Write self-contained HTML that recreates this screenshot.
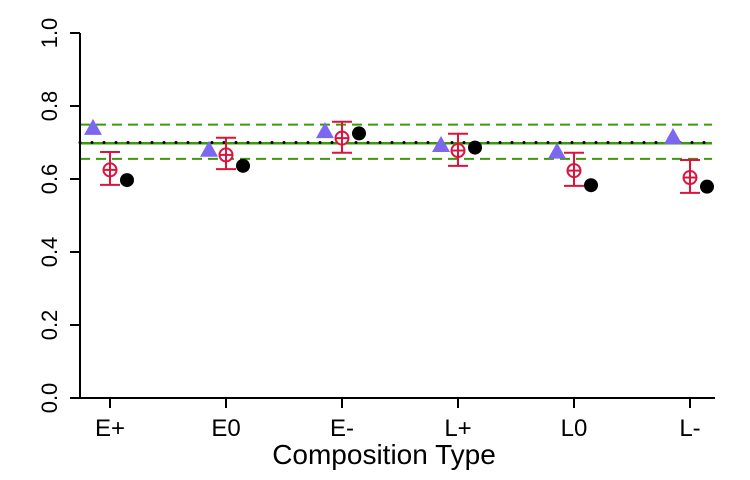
<!DOCTYPE html>
<html><head><meta charset="utf-8"><style>
html,body{margin:0;padding:0;background:#fff;}
svg{display:block;font-family:"Liberation Sans",Arial,sans-serif;}
</style></head><body>
<svg id="chart" width="750" height="480"></svg>
<script>
const categories=["E+","E0","E-","L+","L0","L-"];
const triangleValues=[0.740,0.680,0.731,0.693,0.675,0.715];
const meanValues=[0.625,0.666,0.712,0.678,0.623,0.604];
const errUpper=[0.674,0.713,0.757,0.724,0.672,0.652];
const errLower=[0.584,0.627,0.672,0.636,0.581,0.562];
const dotValues=[0.597,0.636,0.725,0.686,0.583,0.579];
const refLines=[0.700,0.698,0.749,0.655];
const yTicks=[0,0.2,0.4,0.6,0.8,1.0];
const yTickLabels=["0.0","0.2","0.4","0.6","0.8","1.0"];

const NS="http://www.w3.org/2000/svg";
const svg=document.getElementById('chart');
const y=v=>398-v*365;
const x=i=>110+i*116;
function mk(tag,attrs,parent){const e=document.createElementNS(NS,tag);for(const k in attrs)e.setAttribute(k,attrs[k]);(parent||svg).appendChild(e);return e;}

const lineX1=80,lineX2=712;
let l;
l=mk('line',{x1:lineX1,x2:lineX2,y1:y(refLines[1]),y2:y(refLines[1]),stroke:'#3a9a0a','stroke-width':2.5});


l=mk('line',{x1:lineX1,x2:lineX2,y1:y(refLines[0]),y2:y(refLines[0]),stroke:'#000','stroke-width':3,'stroke-dasharray':'0 12','stroke-linecap':'round'});


l=mk('line',{x1:lineX1,x2:lineX2,y1:y(refLines[2]),y2:y(refLines[2]),stroke:'#3a9a0a','stroke-width':2,'stroke-dasharray':'10 6'});


l=mk('line',{x1:lineX1,x2:lineX2,y1:y(refLines[3]),y2:y(refLines[3]),stroke:'#3a9a0a','stroke-width':2,'stroke-dasharray':'10 6'});



l=mk('line',{x1:80,x2:80,y1:y(1),y2:y(0),stroke:'#000','stroke-width':2});


l=mk('line',{x1:80,x2:715,y1:398,y2:398,stroke:'#000','stroke-width':2});



yTicks.forEach((v,i)=>{
  const t=mk('line',{x1:70,x2:80,y1:y(v),y2:y(v),stroke:'#000','stroke-width':2});
  
  
  const tx=mk('text',{x:0,y:0,transform:`translate(57,${y(v)}) rotate(-90)`,'text-anchor':'middle','font-size':22,fill:'#000'});
  tx.textContent=yTickLabels[i];
  
  
});
categories.forEach((c,i)=>{
  const t=mk('line',{x1:x(i),x2:x(i),y1:398,y2:408,stroke:'#000','stroke-width':2});
  
  
  const tx=mk('text',{x:x(i),y:436,'text-anchor':'middle','font-size':24,fill:'#000'});
  tx.textContent=c;
  
  
});
const title=mk('text',{x:384,y:464,'text-anchor':'middle','font-size':28,fill:'#000'});
title.textContent='Composition Type';



categories.forEach((c,i)=>{
  const tx=x(i)-17, ty=y(triangleValues[i]);
  const tri=mk('polygon',{points:`${tx-9},${ty+7} ${tx+9},${ty+7} ${tx},${ty-9}`,fill:'#7b68ee'});
  
  

  const g=mk('g',{stroke:'#dc143c','stroke-width':2,fill:'none'});
  
  
  const cx=x(i);
  mk('line',{x1:cx,x2:cx,y1:y(errUpper[i]),y2:y(errLower[i])},g);
  mk('line',{x1:cx-10,x2:cx+10,y1:y(errUpper[i]),y2:y(errUpper[i])},g);
  mk('line',{x1:cx-10,x2:cx+10,y1:y(errLower[i]),y2:y(errLower[i])},g);
  const cy=y(meanValues[i]);
  mk('circle',{cx:cx,cy:cy,r:6.5,fill:'#fff'},g);
  mk('line',{x1:cx-6.5,x2:cx+6.5,y1:cy,y2:cy},g);
  mk('line',{x1:cx,x2:cx,y1:cy-6.5,y2:cy+6.5},g);

  const d=mk('circle',{cx:x(i)+17,cy:y(dotValues[i]),r:7,fill:'#000'});
  
  
});
</script>
</body></html>
